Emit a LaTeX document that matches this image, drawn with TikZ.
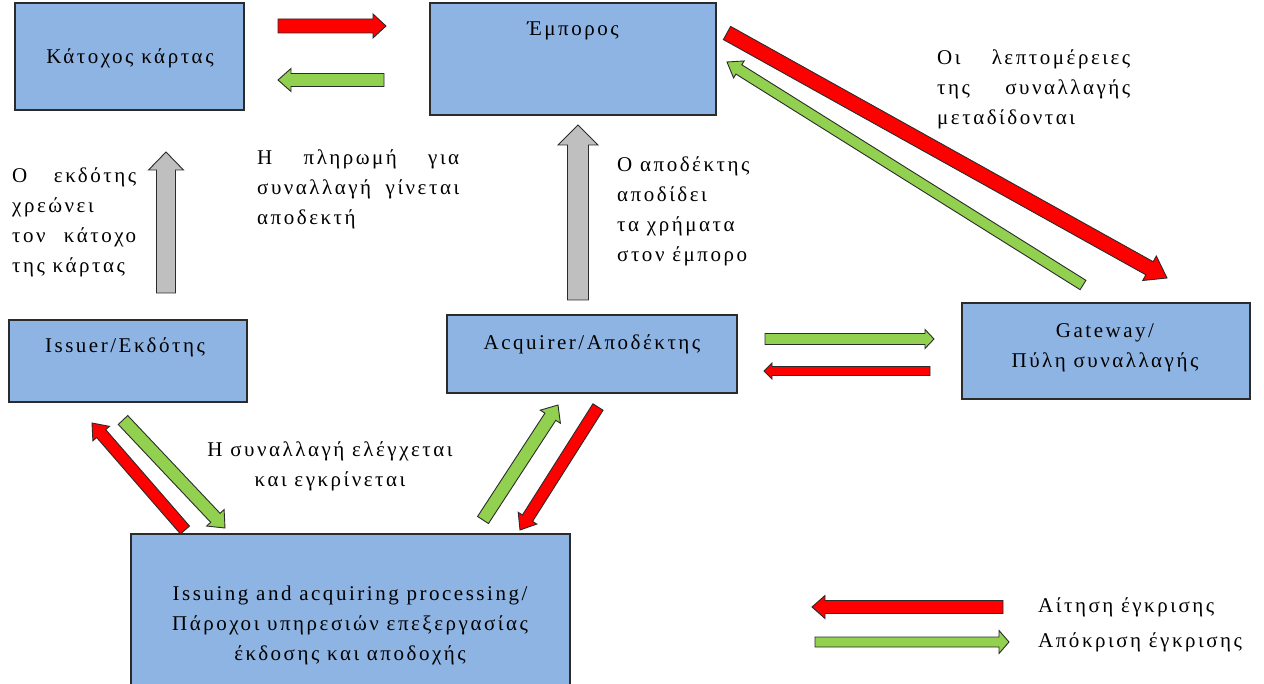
\documentclass[tikz,border=0pt]{standalone}
\usepackage{fontspec}
\setmainfont{Liberation Serif}[LetterSpace=12]
\usetikzlibrary{calc}
\definecolor{boxblue}{HTML}{8EB4E3}
\definecolor{agreen}{HTML}{92D050}
\definecolor{agray}{HTML}{BFBFBF}
\definecolor{ared}{HTML}{FF0000}
\definecolor{edgec}{HTML}{2B2B2B}
\tikzset{
  box/.style={draw=edgec, line width=1.3pt, fill=boxblue, inner sep=0pt},
  barrow/.style={draw=edgec, line width=0.9pt, line join=miter},
  txt/.style={inner sep=0pt, font=\fontsize{21pt}{30pt}\selectfont, align=left},
  ctxt/.style={txt, align=center},
}
% color, start, end, shaft width, head width, head length
\newcommand\blockarrow[6]{%
  \coordinate (tmpP) at ($(#3)!#6*1pt!(#2)$);
  \draw[barrow, fill=#1]
    ($(#2)!#4*0.5pt!90:(#3)$) --
    ($(tmpP)!#4*0.5pt!-90:(#2)$) --
    ($(tmpP)!#5*0.5pt!-90:(#2)$) --
    (#3) --
    ($(tmpP)!#5*0.5pt!90:(#2)$) --
    ($(tmpP)!#4*0.5pt!90:(#2)$) --
    ($(#2)!#4*0.5pt!-90:(#3)$) -- cycle;
}
\begin{document}
\begin{tikzpicture}[x=1pt,y=-1pt]
\useasboundingbox (0,0) rectangle (1264,684);
\clip (0,0) rectangle (1264,684);
\fill[white] (0,0) rectangle (1264,684);

% boxes
\node[box, minimum width=229pt, minimum height=107pt] (holder) at (129.5,56.5) {};
\node[box, minimum width=286pt, minimum height=112pt] (merchant) at (573,59) {};
\node[box, minimum width=238pt, minimum height=82pt] (issuer) at (128,361) {};
\node[box, minimum width=290pt, minimum height=78pt] (acquirer) at (592,354) {};
\node[box, minimum width=288pt, minimum height=96pt] (gateway) at (1106,351) {};
\node[box, minimum width=439pt, minimum height=166pt] (proc) at (350.5,617) {};

% box texts
\node[txt] (holdertxt) at (130,58) {Κάτοχος κάρτας};
\node[txt] (merchanttxt) at (573,31) {Έμπορος};
\node[txt] (issuertxt) at (125,347) {Issuer/Εκδότης};
\node[txt] (acquirertxt) at (592,344) {Acquirer/Αποδέκτης};
\node[ctxt] (gatewaytxt) at (1105,348) {Gateway/\\Πύλη συναλλαγής};
\node[ctxt] (proctxt) at (350,625) {Issuing and acquiring processing/\\Πάροχοι υπηρεσιών επεξεργασίας\\έκδοσης και αποδοχής};

% free texts
\node[txt, anchor=north west] (t1) at (12,167) {\makebox[124pt][s]{Ο εκδότης}\\χρεώνει\\\makebox[124pt][s]{τον κάτοχο}\\της κάρτας};
\node[txt, anchor=north west] (t2) at (257,149) {\makebox[202pt][s]{Η πληρωμή για}\\\makebox[202pt][s]{συναλλαγή γίνεται}\\αποδεκτή};
\node[txt, anchor=north west] (t3) at (617,156) {Ο αποδέκτης\\αποδίδει\\τα χρήματα\\στον έμπορο};
\node[txt, anchor=north west] (t4) at (937,49) {\makebox[193pt][s]{Οι λεπτομέρειες}\\\makebox[193pt][s]{της συναλλαγής}\\μεταδίδονται};
\node[ctxt, anchor=north] (t5) at (330,441) {Η συναλλαγή ελέγχεται\\και εγκρίνεται};

% arrow end points
\coordinate (a1s) at (278,26);   \coordinate (a1e) at (386,26);
\coordinate (a2s) at (384,80);   \coordinate (a2e) at (278,80);
\coordinate (a3s) at (727,33);   \coordinate (a3e) at (1167,278);
\coordinate (a4s) at (1083,285); \coordinate (a4e) at (727,62);
\coordinate (a5s) at (166,293);  \coordinate (a5e) at (166,152);
\coordinate (a6s) at (578,300);  \coordinate (a6e) at (578,125);
\coordinate (a7s) at (765,339);  \coordinate (a7e) at (934,339);
\coordinate (a8s) at (930,371);  \coordinate (a8e) at (764,371);
\coordinate (a9s) at (185,530);  \coordinate (a9e) at (92,423);
\coordinate (a10s) at (123,420); \coordinate (a10e) at (225,528);
\coordinate (a11s) at (483,520); \coordinate (a11e) at (558,405);
\coordinate (a12s) at (598,407); \coordinate (a12e) at (520,530);
\coordinate (l1s) at (1003,607); \coordinate (l1e) at (812,607);
\coordinate (l2s) at (815,642);  \coordinate (l2e) at (1009,642);

\blockarrow{ared}{a1s}{a1e}{14}{24}{13}
\blockarrow{agreen}{a2s}{a2e}{13}{23}{13}
\blockarrow{ared}{a3s}{a3e}{15}{28}{20}
\blockarrow{agreen}{a4s}{a4e}{11}{20}{14}
\blockarrow{agray}{a5s}{a5e}{19}{35}{18}
\blockarrow{agray}{a6s}{a6e}{21}{40}{20}
\blockarrow{agreen}{a7s}{a7e}{11}{19}{9}
\blockarrow{ared}{a8s}{a8e}{9}{16}{8}
\blockarrow{ared}{a9s}{a9e}{12}{22}{14}
\blockarrow{agreen}{a10s}{a10e}{13}{24}{14}
\blockarrow{agreen}{a11s}{a11e}{13}{24}{14}
\blockarrow{ared}{a12s}{a12e}{12}{22}{14}
\blockarrow{ared}{l1s}{l1e}{13}{23}{13}
\blockarrow{agreen}{l2s}{l2e}{10}{23}{10}

% legend texts
\node[txt, anchor=west] (leg1) at (1038,607) {Αίτηση έγκρισης};
\node[txt, anchor=west] (leg2) at (1038,642) {Απόκριση έγκρισης};
\end{tikzpicture}
\end{document}
